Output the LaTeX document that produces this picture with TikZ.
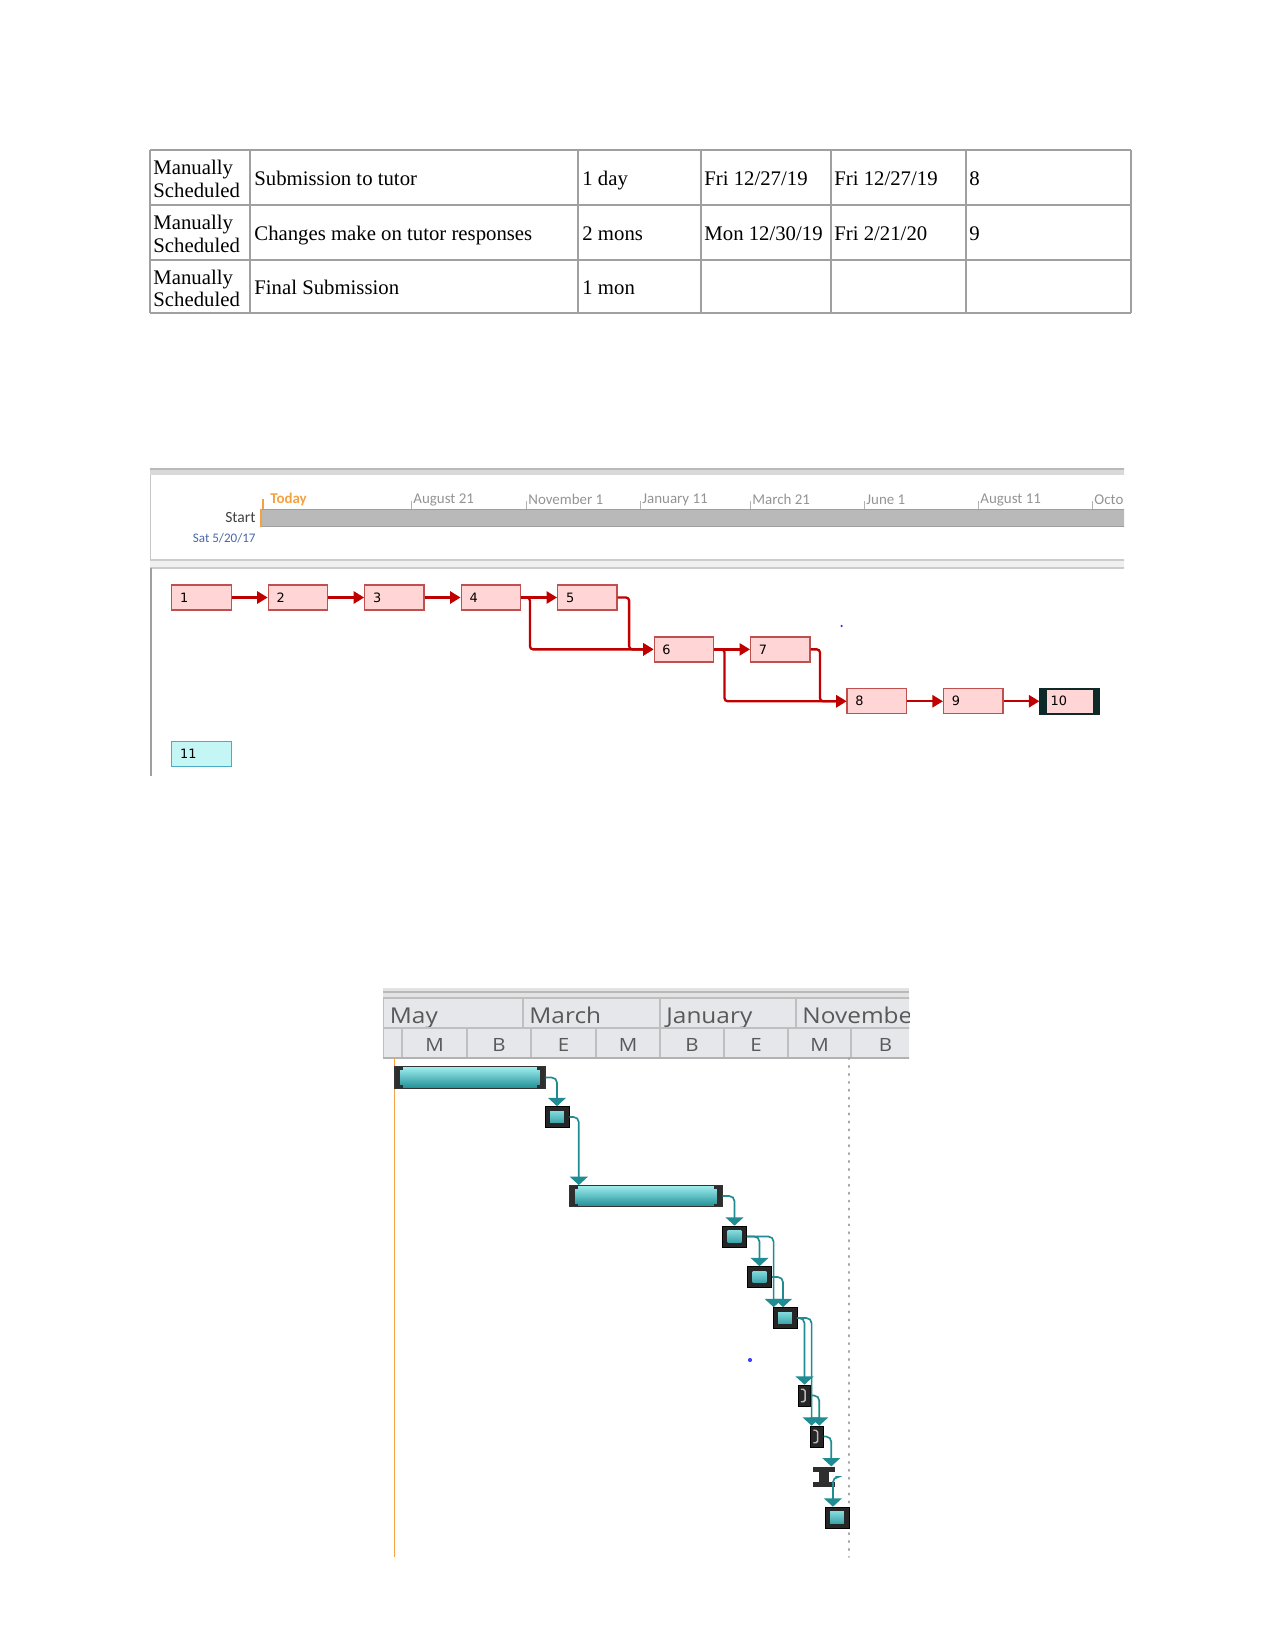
\documentclass[tikz,border=0pt]{standalone}
\usepackage{fontspec}
\setmainfont{Liberation Serif}
\newfontfamily\calfont{Carlito}
\newfontfamily\netfont{DejaVu Sans}
\newfontfamily\hdrfont[FakeStretch=1.12]{Open Sans}
\usetikzlibrary{arrows.meta,positioning}

\definecolor{gridgray}{HTML}{A0A0A0}
\definecolor{linkred}{HTML}{C00000}
\definecolor{taskpink}{HTML}{FFD5D5}
\definecolor{taskedge}{HTML}{C0504D}
\definecolor{lightcyan}{HTML}{C4F6F6}
\definecolor{cyanedge}{HTML}{4BACC6}
\definecolor{linkteal}{HTML}{1E8C92}
\definecolor{barcyan}{HTML}{4FE0E3}
\definecolor{bardark}{HTML}{1F8F96}
\definecolor{headgray}{HTML}{E5E7EB}
\definecolor{todayorange}{HTML}{F5A142}
\definecolor{datblue}{HTML}{4A66A8}
\definecolor{darkend}{HTML}{0E2A28}

\tikzset{
  cell/.style={anchor=base west, inner sep=0pt, font=\fontsize{10}{10.8}\selectfont},
  modecell/.style={anchor=west, inner sep=0pt, align=left, font=\fontsize{10}{10.8}\selectfont},
  task/.style={draw=taskedge, fill=taskpink, line width=0.6bp, text width=20.5bp, align=left,
    inner xsep=4bp, inner ysep=0pt, minimum height=12bp, font=\netfont\fontsize{6.2}{7}\selectfont},
  link/.style={linkred, line width=1.1bp, rounded corners=1.5bp, -{Triangle[length=5bp,width=5.8bp]}},
  tlabel/.style={anchor=west, inner sep=0pt, text=gray!85, font=\calfont\fontsize{7.2}{8}\selectfont},
  ghead/.style={inner sep=0pt, text=black!65, font=\hdrfont\fontsize{10.5}{12}\selectfont},
  gweek/.style={inner sep=0pt, text=black!65, anchor=base, font=\hdrfont\fontsize{8.8}{10}\selectfont},
  gbar/.style={draw=black!80, line width=0.5bp, inner sep=0pt,
    top color=barcyan!55!white, middle color=barcyan, bottom color=bardark,
    path picture={
      \fill[black!82] (path picture bounding box.north west) rectangle ([xshift=2.2bp]path picture bounding box.south west);
      \fill[black!82] (path picture bounding box.north west) rectangle ([shift={(4bp,-1.4bp)}]path picture bounding box.north west);
      \fill[black!82] (path picture bounding box.south west) rectangle ([shift={(4bp,1.4bp)}]path picture bounding box.south west);
      \fill[black!82] (path picture bounding box.north east) rectangle ([xshift=-2.2bp]path picture bounding box.south east);
      \fill[black!82] (path picture bounding box.north east) rectangle ([shift={(-4bp,-1.4bp)}]path picture bounding box.north east);
      \fill[black!82] (path picture bounding box.south east) rectangle ([shift={(-4bp,1.4bp)}]path picture bounding box.south east);
    }},
  gbox/.style={fill=black!85, draw=black, line width=0.4bp, inner sep=0pt, minimum width=11.5bp, minimum height=10bp,
    path picture={
      \shade[top color=barcyan!55!white, middle color=barcyan, bottom color=bardark]
        ([shift={(2.4bp,-2.3bp)}]path picture bounding box.north west) rectangle
        ([shift={(-2.4bp,2.3bp)}]path picture bounding box.south east);
    }},
  gstub/.style={fill=black!85, draw=black, line width=0.4bp, inner sep=0pt, minimum width=6bp, minimum height=10bp,
    path picture={
      \draw[gray!55, line width=0.7bp, rounded corners=0.8bp] ([shift={(1.3bp,-2bp)}]path picture bounding box.north west)
        -- ++(2bp,0) -- ++(0,-6bp) -- ++(-2bp,0);
    }},
  gibeam/.style={inner sep=0pt, minimum width=10.6bp, minimum height=9.8bp,
    path picture={
      \fill[black!82] (path picture bounding box.north west) rectangle ([yshift=-2.4bp]path picture bounding box.north east);
      \fill[black!82] (path picture bounding box.south west) rectangle ([yshift=2.4bp]path picture bounding box.south east);
      \fill[black!82] ([xshift=-2.6bp]path picture bounding box.north) rectangle ([xshift=2.4bp]path picture bounding box.south);
    }},
  glink/.style={draw=linkteal, line width=0.8bp, rounded corners=2.5bp, -{Triangle[width=8.5bp,length=4bp]}}
}

\begin{document}
\begin{tikzpicture}[x=0.48bp, y=-0.48bp]
  \useasboundingbox (0,0) rectangle (1275,1650);

  % Tabell
  \foreach \x in {150,250,578,701,831,966,1131}
    \draw[gridgray, line width=0.7bp] (\x,150) -- (\x,313);
  \foreach \y in {150,205,260,313}
    \draw[gridgray, line width=0.7bp] (150,\y) -- (1131,\y);

  \node[modecell] (r1c1) at (153,179) {Manually\\Scheduled};
  \node[cell] (r1c2) at (254,185) {Submission to tutor};
  \node[cell] (r1c3) at (582,185) {1 day};
  \node[cell] (r1c4) at (704,185) {Fri 12/27/19};
  \node[cell] (r1c5) at (834,185) {Fri 12/27/19};
  \node[cell] (r1c6) at (969,185) {8};

  \node[modecell] (r2c1) at (153,234) {Manually\\Scheduled};
  \node[cell] (r2c2) at (254,240) {Changes make on tutor responses};
  \node[cell] (r2c3) at (582,240) {2 mons};
  \node[cell] (r2c4) at (704,240) {Mon 12/30/19};
  \node[cell] (r2c5) at (834,240) {Fri 2/21/20};
  \node[cell] (r2c6) at (969,240) {9};

  \node[modecell] (r3c1) at (153,288.5) {Manually\\Scheduled};
  \node[cell] (r3c2) at (254,294) {Final Submission};
  \node[cell] (r3c3) at (582,294) {1 mon};

  % Nettverk: tidslinje
  \begin{scope}
    \clip (140,440) rectangle (1124,800);
    \fill[gray!30] (150,469) rectangle (1130,475);
    \draw[gray!55, line width=0.5bp] (150,469) -- (1130,469);
    \draw[gray!45, line width=0.5bp] (150.5,475) -- (150.5,560);
    \fill[gray!12] (150,560) rectangle (1130,568);
    \draw[gray!40, line width=0.5bp] (150,560) -- (1130,560) (150,568) -- (1130,568);
    \draw[gray!75, line width=0.9bp] (151,568) -- (151,776);

    \node[draw=gray!75, fill=gray!55, line width=0.6bp, minimum width=420bp, minimum height=8.2bp,
      inner sep=0pt, anchor=north west] (startbar) at (261,509) {};
    \draw[todayorange, line width=0.8bp] (startbar.north west) -- (startbar.south west);

    \node[tlabel, text=todayorange, font=\calfont\bfseries\fontsize{7.2}{8}\selectfont] (today) at (270,499.5) {Today};
    \draw[todayorange, line width=0.5bp] (263,499) -- (263,509);
    \foreach \x/\t [count=\i] in {413/August 21, 528/November 1, 642/January 11, 752/March 21,
                                   866/June 1, 980/August 11, 1094/Octo} {
      \node[tlabel] (tl\i) at (\x,499.5) {\t};
      \draw[gray!60, line width=0.4bp] (\x-1.5,501) -- (\x-1.5,509);
    }
    \node[anchor=east, inner sep=0pt, text=black!75, font=\calfont\fontsize{7.5}{8}\selectfont] (startlbl) at (256,517) {Start};
    \node[anchor=east, inner sep=0pt, text=datblue, font=\calfont\fontsize{6.3}{7}\selectfont] (startdate) at (256,538) {Sat 5/20/17};
  \end{scope}

  % Nettverk: oppgaver
  \node[task] (n1) at (201.5,597.5) {1};
  \node[task] (n2) [right=17.2bp of n1] {2};
  \node[task] (n3) [right=17.2bp of n2] {3};
  \node[task] (n4) [right=17.2bp of n3] {4};
  \node[task] (n5) [right=17.2bp of n4] {5};
  \node[task] (n6) [below right=12.3bp and 17.2bp of n5] {6};
  \node[task] (n7) [right=17.2bp of n6] {7};
  \node[task] (n8) [below right=12.3bp and 17.2bp of n7] {8};
  \node[task] (n9) [right=17.2bp of n8] {9};
  \node[task, draw=darkend, line width=0.8bp, inner xsep=3bp, text width=22.5bp,
    path picture={
      \fill[darkend] (path picture bounding box.north west) rectangle ([xshift=3.2bp]path picture bounding box.south west);
      \fill[darkend] ([xshift=-3.2bp]path picture bounding box.north east) rectangle (path picture bounding box.south east);}]
    (n10) [right=17.2bp of n9] {\hspace*{2bp}10};
  \node[task, fill=lightcyan, draw=cyanedge] (n11) at (201.5,754) {11};

  \draw[link] (n1) -- (n2);
  \draw[link] (n2) -- (n3);
  \draw[link] (n3) -- (n4);
  \draw[link] (n4) -- (n5);
  \draw[link] (n4.east) -- ++(4.2bp,0) |- (n6.west);
  \draw[link] (n5.east) -- ++(5.5bp,0) |- (n6.west);
  \draw[link] (n6) -- (n7);
  \draw[link] (n6.east) -- ++(5bp,0) |- (n8.west);
  \draw[link] (n7.east) -- ++(4.5bp,0) |- (n8.west);
  \draw[link] (n8) -- (n9);
  \draw[link] (n9) -- (n10);
  \fill[blue!80] (841.5,626) circle (0.6bp);

  % Gantt: hode
  \begin{scope}
    \clip (383,985) rectangle (909,1060);
    \fill[gray!22] (383,988) rectangle (909,998);
    \draw[gray!55, line width=1.2bp] (383,992) -- (909,992);
    \foreach \a/\b/\m [count=\i] in {383.5/523/May, 523/660/March, 660/796/January, 796/920/Novembe} {
      \draw[fill=headgray, draw=gray!50, line width=0.6bp] (\a,998) rectangle (\b,1028);
      \node[ghead, anchor=base west] (mon\i) at (\a+6,1023) {\m};
    }
    \draw[fill=headgray, draw=gray!50, line width=0.6bp] (383.5,1028) rectangle (402,1058);
    \foreach \a/\b/\l [count=\i] in {402/467/M, 467/531/B, 531/596/E, 596/660/M,
                                     660/724/B, 724/788/E, 788/851/M, 851/920/B} {
      \draw[fill=headgray, draw=gray!50, line width=0.6bp] (\a,1028) rectangle (\b,1058);
      \node[gweek] (wk\i) at ({(\a+\b)/2},1051) {\l};
    }
    \draw[gray!60, line width=0.8bp] (383,1058) -- (909,1058);
  \end{scope}

  % Gantt: linjer
  \draw[todayorange, line width=0.9bp] (394.5,1058) -- (394.5,1557);
  \draw[gray!70, line width=0.9bp, dash pattern=on 0.6bp off 3.2bp, line cap=round] (849,1058) -- (849,1557);
  \fill[blue!75] (750,1360) circle (1bp);

  % Gantt: stolper
  \node[gbar, minimum width=72bp, minimum height=10.2bp] (g1) at (470,1077.5) {};
  \node[gbox] (g2) at (557,1117) {};
  \node[gbar, minimum width=73bp, minimum height=10bp] (g3) at (646,1196) {};
  \node[gbox] (g4) at (734.5,1236.5) {};
  \node[gbox] (g5) at (759.5,1277) {};
  \node[gbox] (g6) at (785,1318) {};
  \node[gstub] (g7) at (804.5,1395.5) {};
  \node[gstub] (g8) at (817,1436.5) {};
  \node[gibeam] (g9) at (824,1477) {};
  \node[gbox] (g10) at (837,1517.5) {};

  \draw[glink] (g1.east) -| (g2.north);
  \draw[glink] (g2.east) -| ([xshift=4.5bp]g3.north west);
  \draw[glink] (g3.east) -| (g4.north);
  \draw[glink] (g4.east) -| (g5.north);
  \draw[glink] (g4.east) -| ([xshift=0.5bp]g6.north west);
  \draw[glink] (g5.east) -| ([xshift=5bp]g6.north west);
  \draw[glink] (g6.east) -| (g7.north);
  \draw[glink] (g6.east) -| ([xshift=0.6bp]g8.north west);
  \draw[glink] (g7.east) -| ([xshift=4.3bp]g8.north west);
  \draw[glink] (g8.east) -| ([xshift=9bp]g9.north west);
  \draw[glink] (g9.east) -| ([xshift=4bp]g10.north west);
\end{tikzpicture}
\end{document}
